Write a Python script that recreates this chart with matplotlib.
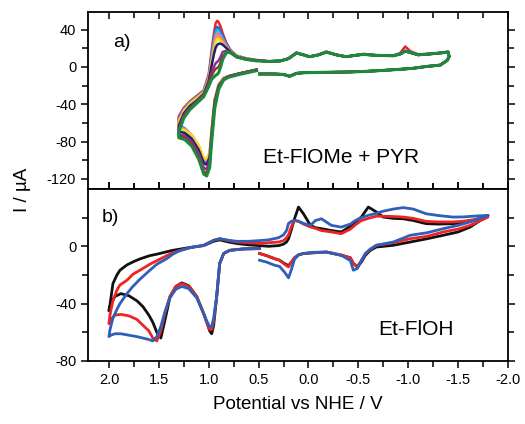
import matplotlib
matplotlib.use('Agg')
import matplotlib.pyplot as plt
from matplotlib.ticker import MultipleLocator, FixedLocator

plt.rcParams['font.family'] = ['Liberation Sans', 'DejaVu Sans']
plt.rcParams['axes.unicode_minus'] = False

# ---------------- panel a) Et-FlOMe + PYR ----------------
a_colors = ['#e4262b', '#2f5fd0', '#22b3d6', '#e873b8', '#f29a35',
            '#f0dc2a', '#1e1f70', '#8d2f92', '#8a3b2b', '#1b8a3f']

# left loop, lower branch (0.5 V -> 1.3 V)
a_V_low = [0.52, 0.69, 0.80, 0.85, 0.90, 0.94, 0.97, 0.99, 1.02, 1.05, 1.10, 1.17, 1.24, 1.30]
a_I_low = [
    [-3, -7, -10, -12, -20, -40, -75, -103, -114, -112, -95, -80, -68, -60],
    [-3, -7, -10, -12, -19, -37, -70, -95, -104, -102, -87, -74, -66, -62],
    [-3, -7, -10, -12, -19, -36, -69, -94, -102, -100, -86, -73, -66, -63],
    [-3, -7, -10, -12, -19, -36, -68, -93, -101, -99, -85, -73, -67, -64],
    [-3, -7, -10, -12, -19, -35, -67, -92, -100, -98, -85, -73, -67, -65],
    [-3, -7, -10, -12, -19, -35, -66, -91, -99, -97, -84, -73, -68, -66],
    [-3, -7, -10, -13, -20, -37, -70, -96, -105, -103, -89, -77, -71, -69],
    [-3, -7, -10, -13, -21, -39, -73, -100, -110, -108, -93, -80, -74, -72],
    [-3, -7, -10, -13, -22, -41, -76, -105, -115, -113, -97, -83, -76, -74],
    [-4, -8, -11, -14, -24, -45, -80, -108, -117, -115, -99, -85, -78, -76],
]
# left loop, upper branch (1.3 V -> 0.5 V)
a_V_up = [1.30, 1.25, 1.19, 1.12, 1.05, 1.00, 0.97, 0.945, 0.93, 0.915, 0.90, 0.88, 0.86,
          0.82, 0.78, 0.72, 0.62, 0.52]
a_I_up = [
    [-53, -44, -37, -31, -25, -8, 18, 38, 47, 49.5, 48, 43, 36, 25, 18, 12, 9, 7.5],
    [-55, -45, -38, -32, -26, -10, 14, 32, 40.5, 43, 42, 38, 33, 24, 17.5, 12, 9, 7],
    [-56, -46, -38, -32, -26, -11, 12, 29, 37.5, 40, 39, 35, 31, 23, 17, 12, 9, 7],
    [-57, -46, -39, -33, -27, -12, 9, 25, 33, 36, 35.5, 32, 29, 22, 17, 12, 9, 7],
    [-58, -47, -39, -33, -27, -13, 7, 22, 30, 33, 32.5, 29.5, 27, 21, 16.5, 11.5, 8.5, 7],
    [-60, -48, -40, -34, -28, -14, 5, 19, 27, 30, 30, 27.5, 25, 20, 16, 11, 8.5, 7],
    [-63, -50, -42, -36, -29, -15, 2, 15, 21, 23.5, 25, 25, 24, 20, 16, 11, 8.5, 7],
    [-66, -52, -44, -37, -30, -17, -6, 1, 4, 5.5, 7, 11, 16, 17.5, 15, 10.5, 8, 7],
    [-68, -54, -45, -38, -31, -19, -9, -4, -2, -1, 0, 5, 11, 16, 15, 10.5, 8, 7],
    [-70, -55, -46, -39, -32, -21, -13, -10.5, -9, -8, -6, 0, 8, 16, 15.5, 11, 8, 6.5],
]
# right loop, upper branch (0.4 V -> -1.4 V)
a_V_rup = [0.40, 0.28, 0.20, 0.12, 0.05, -0.01, -0.10, -0.18, -0.28, -0.38, -0.47, -0.55,
           -0.68, -0.85, -0.92, -0.97, -1.02, -1.10, -1.22, -1.32, -1.40]
a_I_rup = [6, 6.5, 9, 15, 13, 11, 13, 16, 13, 11, 12.5, 13.5, 12.5, 12, 14, 17, 15.5, 13, 14, 15, 16]
a_I_rup_red = [6, 6.5, 9, 15.5, 13, 11, 13, 16.5, 13, 11, 12.5, 14, 12.5, 12, 15, 22, 17, 13.6, 14, 15, 16.5]
# right loop, lower branch (-1.4 V -> 0.5 V)
a_V_rlow = [-1.41, -1.39, -1.32, -1.18, -1.05, -0.92, -0.70, -0.52, -0.35, -0.18, 0.05, 0.12,
            0.19, 0.25, 0.35, 0.49]
a_I_rlow = [11, 7, 2, 0.5, -1.4, -2.5, -4, -5, -5.5, -5.7, -6.2, -6.8, -10, -8, -7.5, -7.5]

# ---------------- panel b) Et-FlOH ----------------
b_colors = ['#111111', '#ee2424', '#2f5fb8']

b_V_low = [0.49, 0.65, 0.79, 0.85, 0.89, 0.92, 0.95, 0.97, 0.99, 1.02, 1.05, 1.12, 1.20, 1.27,
           1.33, 1.39, 1.44, 1.48, 1.52, 1.56, 1.60, 1.66, 1.72, 1.80, 1.88, 1.94, 1.98, 2.00]
b_I_low = [
    [-1.6, -1.8, -2.8, -5, -12, -35, -55, -61, -59, -53, -47, -35, -27.5, -25.5, -28, -36,
     -52, -64, -60, -53, -48, -42, -38, -34.5, -33, -35, -40, -45],
    [-1.6, -1.8, -2.8, -5, -12, -35, -52, -58, -58, -53, -47, -35, -28, -26, -28, -35,
     -47, -59, -66, -64, -59, -55, -51, -48.5, -47.5, -48, -51, -54],
    [-1.6, -1.8, -2.8, -5, -12, -35, -50, -56, -56, -52, -47, -36, -29.5, -28, -30, -36,
     -46, -56, -63, -66, -65, -64, -63, -62, -61, -61, -62, -63],
]
b_V_up = [2.00, 1.99, 1.96, 1.92, 1.89, 1.82, 1.76, 1.69, 1.59, 1.52, 1.42, 1.36, 1.29, 1.19,
          1.05, 0.95, 0.89, 0.80, 0.72, 0.60, 0.49]
b_I_up = [
    [-45, -41, -26, -20, -16.7, -13, -10.9, -8.8, -6.5, -5.5, -3.8, -2.8, -2, -0.8, 0.5, 3.5,
     4.5, 3, 2, 1, 0.5],
    [-54, -48, -38, -30.6, -27, -23.7, -19.5, -16.7, -12.5, -10, -6.5, -4.5, -3, -1, 0.7, 4.2,
     5.3, 4, 3, 2.5, 2],
    [-63, -58.4, -50, -44, -40, -33, -28, -23, -16.7, -12.5, -8.6, -5.5, -3, -1, 0.7, 4.2,
     5.3, 4.2, 3.5, 3.5, 4],
]
b_V_rup = [0.40, 0.30, 0.25, 0.22, 0.20, 0.17, 0.14, 0.10, 0.05, -0.02, -0.07, -0.13, -0.23,
           -0.33, -0.42, -0.47, -0.53, -0.60, -0.68, -0.75, -0.85, -0.95, -1.05, -1.18, -1.30,
           -1.45, -1.55, -1.65, -1.80]
b_I_rup = [
    [0, 0.5, 1.5, 3, 5.3, 12, 19.2, 27.4, 22.7, 14.6, 13, 12.3, 11, 10, 14, 17, 20.4, 27.4,
     24, 20.4, 19.5, 19.2, 18, 15.8, 15.5, 15.8, 16.5, 18, 21.6],
    [2.5, 3, 4, 6, 8, 14, 18, 17.5, 15.5, 13.5, 12.5, 11, 10, 8.8, 12, 15, 18, 19.5, 21, 21,
     20.8, 20.4, 19.5, 17.4, 17, 17, 17.5, 18.5, 20.4],
    [4.5, 6, 8, 11, 16, 17.5, 18, 17.5, 16, 14.6, 18, 19.2, 14.6, 13.4, 15.5, 18, 20, 21.6,
     23, 24.5, 26, 27, 26, 22.7, 21.5, 20.4, 20.5, 21, 21.6],
]
b_V_rlow = [-1.80, -1.62, -1.50, -1.35, -1.19, -1.02, -0.85, -0.68, -0.62, -0.57, -0.53,
            -0.49, -0.45, -0.42, -0.33, -0.18, -0.05, 0.05, 0.10, 0.14, 0.17, 0.20, 0.24,
            0.29, 0.34, 0.42, 0.49]
b_I_rlow = [
    [21.6, 13.4, 10, 7.7, 5.3, 3, 0.7, -0.5, -2.8, -6.3, -11, -14.4, -12, -8, -6.3, -4,
     -4.5, -5, -6, -8, -11, -13.5, -12, -9.7, -8.6, -6.5, -5],
    [20.4, 14.6, 12, 10, 7, 5.3, 2.5, 0.7, -2, -5.5, -10, -14, -12, -8, -6, -4, -4.5, -5,
     -6, -8, -11, -14.4, -12.5, -9.7, -8.6, -6.5, -5],
    [21.6, 17, 14.6, 12.3, 9.5, 7.7, 3, 0.7, -2, -5, -10, -15.5, -16.7, -10, -6.3, -4,
     -4.2, -5, -6, -9, -16, -22, -18, -14, -13.2, -11, -9.7],
]


def style_axis(ax):
    ax.set_xlim(2.21, -2.0)
    ax.xaxis.set_major_locator(MultipleLocator(0.5))
    ax.xaxis.set_minor_locator(MultipleLocator(0.25))
    for s in ax.spines.values():
        s.set_linewidth(1.3)
    ax.tick_params(which='both', top=True, right=True, width=1.1, labelsize=10.5)
    ax.tick_params(which='major', length=5)
    ax.tick_params(which='minor', length=4)
    ax.tick_params(axis='x', which='both', direction='in')
    ax.tick_params(axis='y', which='both', direction='out')
    ax.tick_params(axis='y', which='both', right=True)


fig = plt.figure(figsize=(5.25, 4.24), dpi=100)
ax1 = fig.add_axes([0.1676, 0.5542, 0.8, 0.4175])
ax2 = fig.add_axes([0.1676, 0.1486, 0.8, 0.4057])

for k, c in enumerate(a_colors):
    rup = a_I_rup_red if k == 0 else a_I_rup
    V = a_V_low + a_V_up + a_V_rup + a_V_rlow
    I = a_I_low[k] + a_I_up[k] + rup + a_I_rlow
    ax1.plot(V, I, color=c, lw=1.8 if k < 9 else 2.2, solid_joinstyle='round')

for k, c in enumerate(b_colors):
    V = b_V_low + b_V_up + b_V_rup + b_V_rlow
    I = b_I_low[k] + b_I_up[k] + b_I_rup[k] + b_I_rlow[k]
    ax2.plot(V, I, color=c, lw=2.0, solid_joinstyle='round')

style_axis(ax1)
ax1.set_ylim(-131, 59)
ax1.yaxis.set_major_locator(FixedLocator([-120, -80, -40, 0, 40]))
ax1.yaxis.set_minor_locator(FixedLocator([-100, -60, -20, 20]))
ax1.tick_params(axis='x', labelbottom=False)

style_axis(ax2)
ax2.set_ylim(-80, 40)
ax2.yaxis.set_major_locator(FixedLocator([-80, -40, 0]))
ax2.yaxis.set_minor_locator(FixedLocator([-60, -20, 20]))
ax2.tick_params(axis='x', which='both', bottom=True, direction='out', pad=4)
ax2.tick_params(axis='x', which='both', top=True)
ax2.set_xlabel('Potential vs NHE / V', fontsize=13.5, labelpad=6)

ax1.text(0.06, 0.83, 'a)', transform=ax1.transAxes, fontsize=14, va='center', ha='left')
ax2.text(0.033, 0.837, 'b)', transform=ax2.transAxes, fontsize=14, va='center', ha='left')
ax1.text(0.417, 0.147, 'Et-FlOMe + PYR', transform=ax1.transAxes, fontsize=15,
         va='baseline', ha='left')
ax2.text(0.69, 0.151, 'Et-FlOH', transform=ax2.transAxes, fontsize=15,
         va='baseline', ha='left')
fig.text(0.042, 0.552, 'I / µA', rotation=90, fontsize=13.5, va='center', ha='center')

fig.savefig('out.png', dpi=100)
